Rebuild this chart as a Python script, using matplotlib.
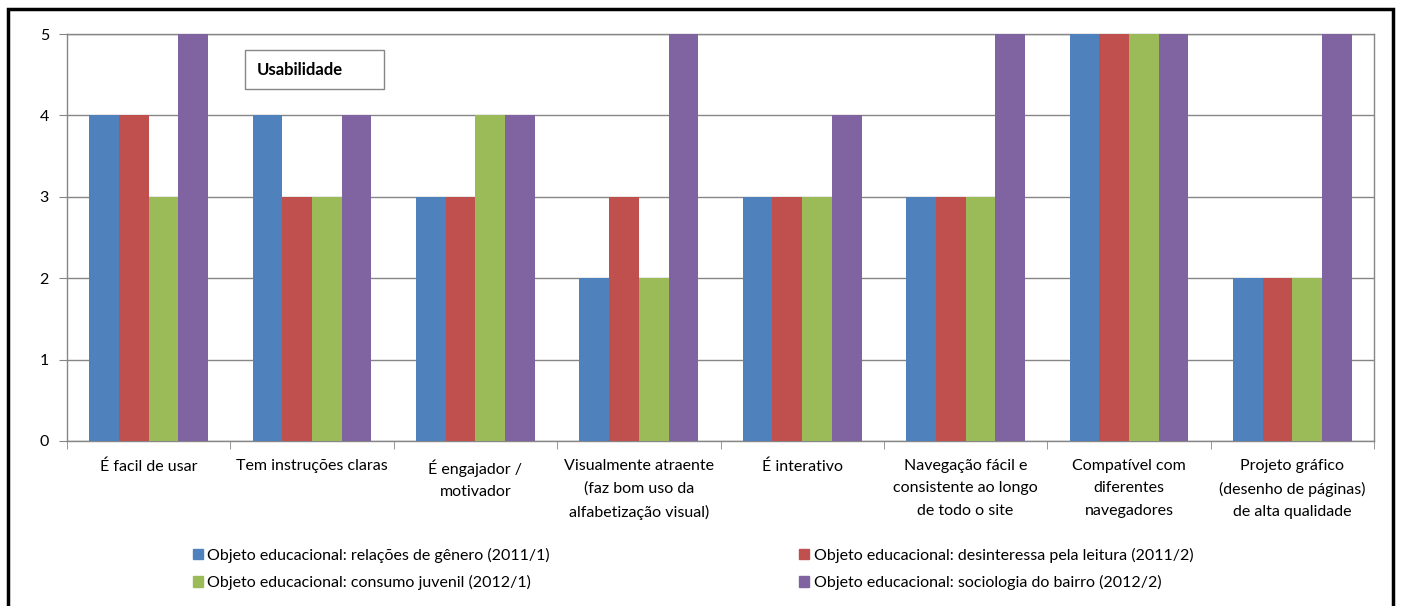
import numpy as np
import matplotlib.pyplot as plt
from matplotlib.patches import Rectangle, Patch

categories = [
    "É facil de usar",
    "Tem instruções claras",
    "É engajador /\nmotivador",
    "Visualmente atraente\n(faz bom uso da\nalfabetização visual)",
    "É interativo",
    "Navegação fácil e\nconsistente ao longo\nde todo o site",
    "Compatível com\ndiferentes\nnavegadores",
    "Projeto gráfico\n(desenho de páginas)\nde alta qualidade",
]
series_names = [
    "Objeto educacional: relações de gênero (2011/1)",
    "Objeto educacional: desinteressa pela leitura (2011/2)",
    "Objeto educacional: consumo juvenil (2012/1)",
    "Objeto educacional: sociologia do bairro (2012/2)",
]
genero = [4, 4, 3, 2, 3, 3, 5, 2]
leitura = [4, 3, 3, 3, 3, 3, 5, 2]
consumo = [3, 3, 4, 2, 3, 3, 5, 2]
bairro = [5, 4, 4, 5, 4, 5, 5, 5]
colors = ["#4F81BD", "#C0504D", "#9BBB59", "#8064A2"]

plt.rcParams["font.family"] = ["Lato", "DejaVu Sans"]
plt.rcParams["font.size"] = 11.5

fig = plt.figure(figsize=(14.02, 6.06), dpi=100)
ax = fig.add_axes([67 / 1402, 1 - 441 / 606, (1374 - 67) / 1402, (441 - 34) / 606])

x = np.arange(len(categories))
w = 1 / 5.5
all_series = [genero, leitura, consumo, bairro]
for i, vals in enumerate(all_series):
    ax.bar(x + (i - 1.5) * w, vals, width=w, color=colors[i], zorder=3)

ax.set_xlim(-0.5, len(categories) - 0.5)
ax.set_ylim(0, 5)
ax.set_yticks(range(6))
ax.yaxis.grid(True, color="#868686", linewidth=1, zorder=0)
ax.set_xticks(x)
ax.set_xticklabels(categories, linespacing=1.75)
ax.set_xticks(np.arange(len(categories) + 1) - 0.5, minor=True)
ax.tick_params(axis="x", which="major", length=0, pad=13)
ax.tick_params(axis="x", which="minor", length=6, color="#868686", direction="out")
ax.tick_params(axis="y", length=6, color="#868686", direction="out", pad=7)
for s in ax.spines.values():
    s.set_color("#868686")
    s.set_linewidth(1)

# title box inside the plot
box = Rectangle((245 / 1402, 1 - 89 / 606), 139 / 1402, 39 / 606, transform=fig.transFigure,
                fill=False, edgecolor="#868686", linewidth=1)
fig.patches.append(box)
fig.text(257 / 1402, 1 - 70 / 606, "Usabilidade", fontweight="bold", va="center", ha="left",
         fontsize=12)

handles = [Patch(color=c) for c in colors]
order = [0, 2, 1, 3]
fig.legend([handles[k] for k in order], [series_names[k] for k in order],
           ncol=2, loc="upper left", bbox_to_anchor=(185 / 1402, 1 - 540 / 606),
           frameon=False, handlelength=0.6, handleheight=0.6, handletextpad=0.3,
           columnspacing=15.6, labelspacing=0.75, borderpad=0)

frame = Rectangle((8 / 1402, -0.05), 1385 / 1402, 1.05 - 9 / 606, transform=fig.transFigure,
                  fill=False, edgecolor="black", linewidth=2.5, clip_on=False)
fig.patches.append(frame)

fig.savefig("out.png", dpi=100)
